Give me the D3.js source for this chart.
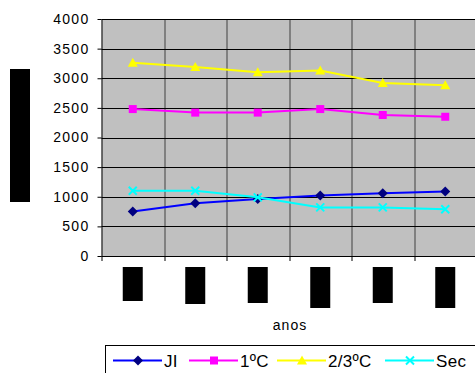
<!DOCTYPE html>
<html>
<head>
<meta charset="utf-8">
<script src="https://cdn.jsdelivr.net/npm/d3@7"></script>
<style>
  body { margin: 0; background: #fff; }
  svg { display: block; font-family: "Liberation Sans", Arial, sans-serif; }
</style>
</head>
<body>
<div id="chart"></div>
<script>
// categories (x labels are blacked out in the source, heights of the boxes kept)
const categories = ["c1", "c2", "c3", "c4", "c5", "c6"];
const labelBoxHeights = [34, 37, 36, 41, 36, 41];

const seriesNames = ["JI", "1ºC", "2/3ºC", "Sec"];
const valuesJI = [750, 890, 960, 1020, 1060, 1090];
const values1C = [2480, 2420, 2420, 2480, 2380, 2350];
const values23C = [3260, 3190, 3100, 3130, 2920, 2880];
const valuesSec = [1100, 1100, 990, 820, 820, 790];
const yTicks = [0, 500, 1000, 1500, 2000, 2500, 3000, 3500, 4000];

const series = [
  {name: seriesNames[0], values: valuesJI, line: "#0000ff", marker: "#000080", shape: "diamond"},
  {name: seriesNames[1], values: values1C, line: "#ff00ff", marker: "#ff00ff", shape: "square"},
  {name: seriesNames[2], values: values23C, line: "#ffff00", marker: "#ffff00", shape: "triangle"},
  {name: seriesNames[3], values: valuesSec, line: "#00ffff", marker: "#00ffff", shape: "cross"}
];

const W = 475, H = 373;
const margin = {top: 19, left: 101.5, bottom: 117};
const plotW = 375, plotH = H - margin.top - margin.bottom;

const svg = d3.select("#chart").append("svg")
    .attr("width", W)
    .attr("height", H);

const g = svg.append("g")
    .attr("transform", `translate(${margin.left},${margin.top})`);

const x = d3.scaleBand()
    .domain(categories)
    .range([0, plotW]);

const y = d3.scaleLinear()
    .domain([0, 4000])
    .range([plotH, 0]);

// plot area
g.append("rect")
    .attr("width", plotW)
    .attr("height", plotH)
    .attr("fill", "#c0c0c0");

// vertical gridlines at category boundaries
g.selectAll(".vgrid")
    .data(categories.slice(1))
    .enter().append("line")
    .attr("x1", d => Math.round(x(d)) + 0.5)
    .attr("x2", d => Math.round(x(d)) + 0.5)
    .attr("y1", 0)
    .attr("y2", plotH)
    .attr("stroke", "#404040");

// horizontal gridlines
g.selectAll(".hgrid")
    .data(yTicks.slice(1))
    .enter().append("line")
    .attr("x1", 0)
    .attr("x2", plotW)
    .attr("y1", d => Math.round(y(d)) + 0.5)
    .attr("y2", d => Math.round(y(d)) + 0.5)
    .attr("stroke", "#000");

// y axis
const yAxis = g.append("g")
    .call(d3.axisLeft(y).tickValues(yTicks).tickFormat(d3.format("d"))
        .tickSize(4).tickSizeOuter(0).tickPadding(8));
yAxis.selectAll("text")
    .attr("font-size", 14)
    .attr("letter-spacing", 1.3)
    .attr("fill", "#000")
    .attr("font-family", "Liberation Sans, Arial, sans-serif");
yAxis.select(".domain").attr("stroke", "#000");
yAxis.selectAll("line").attr("stroke", "#000");

// x axis with ticks at boundaries
const xAxis = g.append("g")
    .attr("transform", `translate(0,${plotH})`);
xAxis.append("line")
    .attr("x1", 0).attr("x2", plotW)
    .attr("y1", 0.5).attr("y2", 0.5)
    .attr("stroke", "#000");
xAxis.selectAll(".xtick")
    .data(categories)
    .enter().append("line")
    .attr("x1", d => Math.round(x(d)) + 0.5)
    .attr("x2", d => Math.round(x(d)) + 0.5)
    .attr("y1", 0).attr("y2", 5)
    .attr("stroke", "#000");

// blacked-out category labels
xAxis.selectAll(".xlabel")
    .data(categories)
    .enter().append("rect")
    .attr("x", d => x(d) + x.bandwidth() / 2 - 10)
    .attr("y", 11)
    .attr("width", 20)
    .attr("height", (d, i) => labelBoxHeights[i])
    .attr("fill", "#000");

// blacked-out y title
svg.append("rect")
    .attr("x", 10).attr("y", 69)
    .attr("width", 20).attr("height", 133)
    .attr("fill", "#000");

// x title
svg.append("text")
    .attr("x", 290).attr("y", 330)
    .attr("text-anchor", "middle")
    .attr("font-size", 14)
    .attr("letter-spacing", 1)
    .text("anos");

const markerPath = {
  diamond: "M0,-5L5,0L0,5L-5,0Z",
  square: "M-4,-4H4V4H-4Z",
  triangle: "M0,-5L5,4L-5,4Z",
  cross: "M-4,-4L4,4M4,-4L-4,4"
};

function drawMarker(sel, s) {
  const path = sel.append("path").attr("d", markerPath[s.shape]);
  if (s.shape === "cross") {
    path.attr("fill", "none").attr("stroke", s.marker).attr("stroke-width", 2);
  } else {
    path.attr("fill", s.marker);
  }
}

const line = d3.line()
    .x((d, i) => x(categories[i]) + x.bandwidth() / 2)
    .y(d => y(d));

series.forEach(s => {
  g.append("path")
      .datum(s.values)
      .attr("fill", "none")
      .attr("stroke", s.line)
      .attr("stroke-width", 2)
      .attr("d", line);
  s.values.forEach((v, i) => {
    const m = g.append("g")
        .attr("transform", `translate(${x(categories[i]) + x.bandwidth() / 2},${y(v)})`);
    drawMarker(m, s);
  });
});

// legend
const legend = svg.append("g");
legend.append("rect")
    .attr("x", 105.5).attr("y", 345.5)
    .attr("width", 380).attr("height", 40)
    .attr("fill", "#fff")
    .attr("stroke", "#000");

const legendX = [113, 189, 277, 385];
series.forEach((s, i) => {
  const item = legend.append("g").attr("transform", `translate(${legendX[i]},360.5)`);
  item.append("line")
      .attr("x1", 0).attr("x2", 49)
      .attr("stroke", s.line)
      .attr("stroke-width", 2);
  const m = item.append("g").attr("transform", "translate(25,0)");
  drawMarker(m, s);
  item.append("text")
      .attr("x", 51).attr("y", 6)
      .attr("font-size", 17)
      .attr("letter-spacing", 0.3)
      .text(s.name);
});
</script>
</body>
</html>
